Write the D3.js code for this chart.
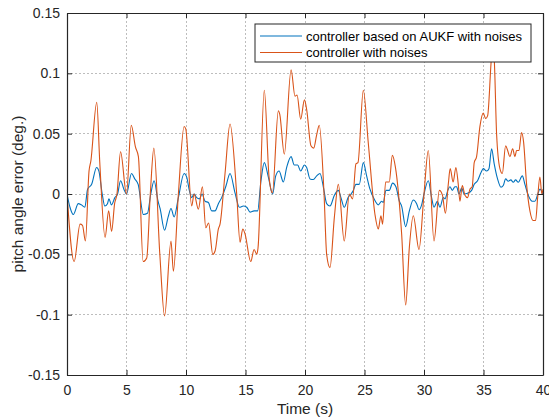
<!DOCTYPE html>
<html>
<head>
<meta charset="utf-8">
<script src="https://cdn.jsdelivr.net/npm/d3@7"></script>
<style>
  body { margin: 0; background: #fff; }
  svg { display: block; font-family: "Liberation Sans", Arial, Helvetica, sans-serif; }
</style>
</head>
<body>
<div id="chart"></div>
<script>
// controller with noises (orange)
const noiseTime = [0, 0.6, 1.1, 1.3, 1.55, 1.85, 2.0, 2.5, 2.75, 3.2, 3.5, 3.75, 4.0, 4.2, 4.5, 5.0, 5.4, 5.75, 6.0, 6.4,
  6.7, 7.0, 7.3, 7.8, 8.2, 8.74, 8.94, 9.36, 9.84, 9.98, 10.48, 10.68, 11.04, 11.38, 11.66, 11.9, 12.25, 12.45, 12.72, 12.86,
  13.28, 13.7, 14.26, 14.54, 14.77, 14.96, 15.44, 15.72, 15.95, 16.05, 16.58, 16.98, 17.26, 17.76, 17.88, 18.26, 18.83, 19.16, 19.33, 19.64,
  19.95, 20.14, 20.5, 20.73, 20.98, 21.2, 21.6, 21.82, 22.1, 22.47, 22.8, 23.3, 23.73, 24.0, 24.28, 24.45, 24.9, 25.32, 25.88, 26.16,
  26.38, 26.52, 26.78, 27.08, 27.34, 27.6, 28.12, 28.46, 28.77, 29.1, 29.58, 30.0, 30.36, 30.84, 31.29, 31.55, 31.8, 32.04, 32.2, 32.45,
  32.68, 32.88, 33.02, 33.22, 33.44, 33.66, 33.86, 34.05, 34.22, 34.42, 34.7, 34.98, 35.18, 35.35, 35.63, 35.78, 35.92, 36.1, 36.38, 36.58,
  36.86, 37.03, 37.22, 37.45, 37.64, 37.78, 37.98, 38.2, 38.37, 38.62, 38.9, 39.18, 39.38, 39.55, 39.74, 39.9, 40];
const noiseValue = [0, -0.056, -0.025, -0.026, -0.039, 0.019, 0.027, 0.076, 0.027, -0.036, -0.014, -0.031, -0.008, 0, 0.035, 0, 0.057, 0.039, 0.031, -0.056,
  -0.053, 0, 0.038, -0.05, -0.101, -0.039, -0.064, 0, 0.056, 0.054, -0.01, 0, -0.0125, 0.006, -0.028, -0.024, -0.05, -0.047, -0.029, -0.025,
  0.017, 0.058, 0, -0.04, -0.029, -0.033, -0.056, -0.046, -0.05, -0.045, 0.086, 0.014, 0.001, 0.069, 0.066, 0.033, 0.103, 0.081, 0.082, 0.062,
  0.078, 0.07, 0.04, 0.038, 0.049, 0.057, 0, -0.05, -0.061, -0.019, 0.008, -0.039, 0, -0.004, 0.025, 0.026, 0.086, 0.042, -0.017, -0.029,
  -0.018, -0.025, 0.01, 0.01, 0.032, 0.022, -0.033, -0.092, -0.044, -0.018, -0.046, 0, 0.036, -0.039, 0.003, -0.001, -0.016, 0.008, 0.021, 0.01,
  0.022, 0.008, -0.006, 0.007, -0.001, -0.003, 0.004, 0.006, 0.026, 0.031, 0.056, 0.067, 0.0625, 0.065, 0.108, 0.128, 0.108, 0.05, 0.021, 0.017,
  0.04, 0.036, 0.031, 0.0375, 0.031, 0.036, 0.036, 0.051, 0.043, 0.008, -0.014, -0.022, -0.022, -0.003, 0.014, 0, 0.004];

// controller based on AUKF with noises (blue)
const aukfTime = [0, 0.25, 0.53, 0.95, 1.2, 1.5, 1.73, 2.07, 2.49, 2.68, 2.96, 3.18, 3.4, 3.52, 3.74, 4.02, 4.25, 4.5, 4.78, 5.0,
  5.42, 5.7, 5.98, 6.42, 6.76, 7.04, 7.32, 7.65, 7.82, 8.2, 8.5, 8.74, 9.0, 9.36, 9.84, 10.06, 10.28, 10.48, 10.68, 10.9,
  11.13, 11.35, 11.6, 11.88, 12.16, 12.44, 12.72, 13.0, 13.37, 13.7, 14.12, 14.49, 14.82, 15.1, 15.38, 15.72, 16.02, 16.3, 16.58, 16.92,
  17.28, 17.54, 17.82, 18.18, 18.46, 18.83, 19.1, 19.38, 19.64, 19.95, 20.14, 20.42, 20.7, 20.98, 21.26, 21.54, 21.82, 22.1, 22.47, 22.8,
  23.02, 23.3, 23.62, 23.87, 24.06, 24.28, 24.56, 24.9, 25.18, 25.46, 25.8, 26.16, 26.44, 26.58, 26.8, 27.08, 27.36, 27.64, 27.93, 28.12,
  28.46, 28.77, 29.1, 29.38, 29.58, 29.8, 30.0, 30.36, 30.64, 30.84, 31.12, 31.34, 31.62, 31.76, 32.0, 32.18, 32.38, 32.6, 32.74, 32.94,
  33.16, 33.38, 33.66, 34.0, 34.22, 34.5, 34.8, 34.98, 35.26, 35.46, 35.68, 35.9, 36.18, 36.47, 36.66, 36.86, 37.08, 37.3, 37.5, 37.7,
  37.92, 38.26, 38.48, 38.76, 39.1, 39.32, 39.6, 39.74, 40];
const aukfValue = [0, -0.011, -0.017, -0.008, -0.009, -0.011, 0.004, 0.008, 0.022, 0.019, 0, -0.01, -0.008, -0.004, -0.009, -0.003, 0, 0.011, 0.004, 0,
  0.017, 0.0125, 0.008, -0.017, -0.016, 0, 0.011, -0.006, -0.012, -0.03, -0.019, -0.012, -0.019, -0.003, 0.017, 0.014, 0.003, -0.003, 0, -0.003,
  -0.004, 0, -0.006, -0.007, -0.014, -0.014, -0.008, -0.003, 0.007, 0.017, 0.001, -0.011, -0.01, -0.011, -0.015, -0.014, -0.014, 0.011, 0.026, 0.014,
  0, 0.015, 0.019, 0.01, 0.022, 0.031, 0.024, 0.024, 0.019, 0.024, 0.022, 0.0125, 0.012, 0.015, 0.017, 0.006, -0.008, -0.01, -0.001, 0.003,
  -0.003, -0.011, -0.003, 0, 0.003, 0.008, 0.008, 0.026, 0.015, 0.004, -0.004, -0.009, -0.006, -0.007, 0.003, 0.003, 0.009, 0.006, -0.006, -0.01,
  -0.027, -0.014, -0.005, -0.008, -0.013, -0.009, 0, 0.011, -0.003, -0.011, -0.006, -0.011, -0.003, -0.004, 0.003, 0.006, 0.003, 0.006, 0.006, 0,
  0.005, 0, 0.0006, 0.003, 0.008, 0.011, 0.018, 0.021, 0.019, 0.021, 0.0375, 0.025, 0.0125, 0.0056, 0.007, 0.0125, 0.0106, 0.0117, 0.0097, 0.0117,
  0.0097, 0.015, 0.008, -0.001, -0.006, -0.006, 0.001, 0.004, 0];

const xTicks = [0, 5, 10, 15, 20, 25, 30, 35, 40];
const yTicks = [-0.15, -0.1, -0.05, 0, 0.05, 0.1, 0.15];
const yTickLabels = ['-0.15', '-0.1', '-0.05', '0', '0.05', '0.1', '0.15'];
const legendLabels = ['controller based on AUKF with noises', 'controller with noises'];

const W = 549, H = 417;
const margin = { top: 13, right: 6, bottom: 42, left: 67 };
const width = W - margin.left - margin.right;
const height = H - margin.top - margin.bottom;
const axisColor = '#262626';
const colors = { aukf: '#0072BD', noise: '#D95319' };

const svg = d3.select('#chart').append('svg')
  .attr('width', W)
  .attr('height', H);

const g = svg.append('g')
  .attr('transform', `translate(${margin.left},${margin.top})`);

const x = d3.scaleLinear().domain([0, 40]).range([0, width]);
const y = d3.scaleLinear().domain([-0.15, 0.15]).range([height, 0]);

// grid
const grid = g.append('g').attr('class', 'grid');
grid.selectAll('line.gx').data(xTicks.slice(1, -1)).join('line')
  .attr('x1', d => x(d)).attr('x2', d => x(d))
  .attr('y1', 0).attr('y2', height);
grid.selectAll('line.gy').data(yTicks.slice(1, -1)).join('line')
  .attr('x1', 0).attr('x2', width)
  .attr('y1', d => y(d)).attr('y2', d => y(d));
grid.selectAll('line')
  .attr('stroke', '#bdbdbd')
  .attr('stroke-width', 1)
  .attr('stroke-dasharray', '2,2')
  .attr('shape-rendering', 'crispEdges');

// lines
g.append('clipPath').attr('id', 'clip')
  .append('rect').attr('width', width).attr('height', height);

const line = d3.line()
  .x(d => x(d[0]))
  .y(d => y(d[1]))
  .curve(d3.curveMonotoneX);

const plot = g.append('g').attr('clip-path', 'url(#clip)');
plot.append('path')
  .datum(aukfTime.map((t, i) => [t, aukfValue[i]]))
  .attr('fill', 'none')
  .attr('stroke', colors.aukf)
  .attr('stroke-width', 1.1)
  .attr('d', line);
plot.append('path')
  .datum(noiseTime.map((t, i) => [t, noiseValue[i]]))
  .attr('fill', 'none')
  .attr('stroke', colors.noise)
  .attr('stroke-width', 1.1)
  .attr('d', line);

// axes (ticks point inward, box on all four sides)
const styleAxis = sel => {
  sel.select('.domain').attr('stroke', axisColor).attr('stroke-width', 1.2);
  sel.selectAll('.tick line').attr('stroke', axisColor);
  sel.selectAll('text').attr('fill', axisColor).attr('font-size', 14)
    .attr('font-family', '"Liberation Sans", Arial, sans-serif');
};

g.append('g')
  .attr('transform', `translate(0,${height})`)
  .call(d3.axisBottom(x).tickValues(xTicks).tickSizeInner(-5).tickSizeOuter(0).tickPadding(10))
  .call(styleAxis);

g.append('g')
  .call(d3.axisTop(x).tickValues(xTicks).tickSizeInner(-5).tickSizeOuter(0).tickFormat(''))
  .call(styleAxis);

g.append('g')
  .call(d3.axisLeft(y).tickValues(yTicks).tickSizeInner(-5).tickSizeOuter(0).tickPadding(7)
    .tickFormat((d, i) => yTickLabels[i]))
  .call(styleAxis);

g.append('g')
  .attr('transform', `translate(${width},0)`)
  .call(d3.axisRight(y).tickValues(yTicks).tickSizeInner(-5).tickSizeOuter(0).tickFormat(''))
  .call(styleAxis);

// axis labels
g.append('text')
  .attr('x', width / 2)
  .attr('y', height + 39)
  .attr('text-anchor', 'middle')
  .attr('font-size', 15.5)
  .attr('fill', axisColor)
  .text('Time (s)');

g.append('text')
  .attr('transform', `translate(${-margin.left + 23},${height / 2}) rotate(-90)`)
  .attr('text-anchor', 'middle')
  .attr('font-size', 15.5)
  .attr('fill', axisColor)
  .text('pitch angle error (deg.)');

// legend
const legend = svg.append('g').attr('transform', 'translate(255,24)');
legend.append('rect')
  .attr('width', 276).attr('height', 38)
  .attr('fill', '#fff')
  .attr('stroke', axisColor)
  .attr('stroke-width', 1);

const legendColors = [colors.aukf, colors.noise];
legendLabels.forEach((label, i) => {
  const row = legend.append('g').attr('transform', `translate(0,${12 + i * 16.5})`);
  row.append('line')
    .attr('x1', 5).attr('x2', 47)
    .attr('stroke', legendColors[i])
    .attr('stroke-width', 1.1);
  row.append('text')
    .attr('x', 51).attr('y', 4.5)
    .attr('font-size', 13)
    .attr('fill', '#000')
    .text(label);
});
</script>
</body>
</html>
